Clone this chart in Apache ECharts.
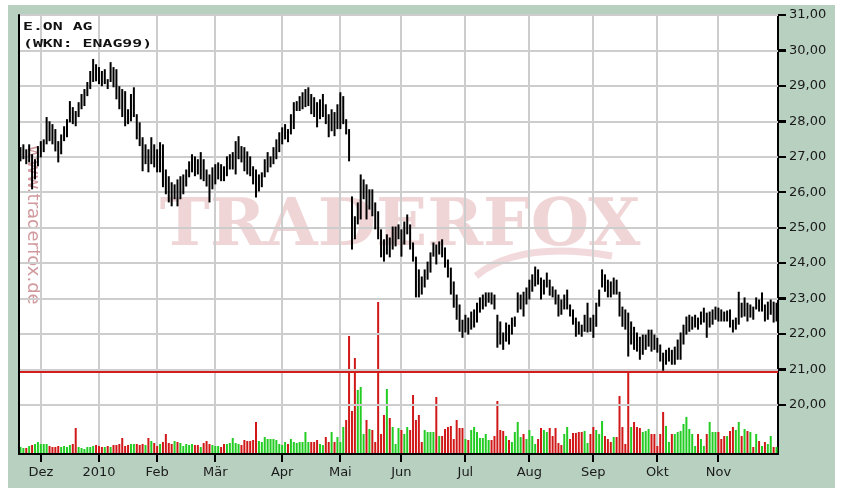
<!DOCTYPE html>
<html>
<head>
<meta charset="utf-8">
<title>E.ON AG</title>
<script src="https://cdn.jsdelivr.net/npm/echarts@6/dist/echarts.min.js"></script>
<style>
  html, body { margin: 0; padding: 0; background: #fff; }
  #main { width: 845px; height: 488px; }
</style>
</head>
<body>
<div id="main"></div>
<script>
// Handelstage: Xetra, 20.11.2009 bis 29.11.2010
const startDate = '2009-11-20';
const holidays = ['2009-12-24', '2009-12-25', '2009-12-31', '2010-01-01', '2010-04-02', '2010-04-05'];
const monthNames = ['Jan', 'Feb', 'Mär', 'Apr', 'Mai', 'Jun', 'Jul', 'Aug', 'Sep', 'Okt', 'Nov', 'Dez'];
const priceTicks = [20, 21, 22, 23, 24, 25, 26, 27, 28, 29, 30, 31];
const priceMin = 18.61;
const priceMax = 31;
const supportLine = 20.92;

// Tageshoch
const highs = [
  27.27, 27.35, 27.21, 27.35, 27.07, 26.93, 27.30, 27.44, 27.49, 28.12,
  28.00, 27.92, 27.78, 27.44, 27.63, 27.86, 28.06, 28.57, 28.40, 28.29,
  28.54, 28.77, 28.91, 29.11, 29.42, 29.76, 29.61, 29.53, 29.42, 29.47,
  29.19, 29.67, 29.53, 29.47, 28.99, 28.91, 28.85, 28.34, 28.77, 28.96,
  28.20, 27.97, 27.55, 27.35, 27.21, 27.55, 27.35, 27.21, 27.41, 27.35,
  26.64, 26.45, 26.28, 26.22, 26.36, 26.45, 26.50, 26.64, 26.87, 27.07,
  27.01, 26.93, 27.13, 26.93, 26.64, 26.50, 26.70, 26.79, 26.84, 26.79,
  26.73, 27.01, 27.07, 27.13, 27.44, 27.58, 27.30, 27.27, 27.15, 27.01,
  26.73, 26.64, 26.50, 26.56, 26.93, 27.13, 27.01, 27.27, 27.49, 27.69,
  27.83, 27.92, 27.78, 28.20, 28.54, 28.57, 28.71, 28.82, 28.91, 28.96,
  28.77, 28.68, 28.54, 28.62, 28.77, 28.48, 28.20, 28.34, 28.26, 28.48,
  28.82, 28.71, 28.06, 27.78, 25.88, 25.32, 25.71, 26.50, 26.36, 26.22,
  26.08, 26.08, 25.71, 25.46, 24.95, 24.67, 24.81, 24.72, 25.03, 25.03,
  25.09, 24.95, 25.17, 25.37, 25.09, 24.58, 24.18, 23.82, 23.62, 23.82,
  24.04, 24.30, 24.58, 24.52, 24.61, 24.67, 24.44, 24.10, 23.87, 23.48,
  23.11, 22.83, 22.40, 22.54, 22.46, 22.63, 22.69, 22.88, 23.03, 23.11,
  23.17, 23.17, 23.17, 23.11, 22.54, 22.35, 22.04, 22.32, 22.26, 22.46,
  22.49, 23.17, 23.11, 23.19, 23.31, 23.53, 23.68, 23.90, 23.82, 23.59,
  23.53, 23.73, 23.53, 23.34, 23.25, 23.11, 22.97, 23.11, 23.25, 22.83,
  22.69, 22.46, 22.35, 22.26, 22.54, 22.88, 22.46, 22.54, 22.88, 23.25,
  23.82, 23.68, 23.53, 23.48, 23.59, 23.53, 23.19, 22.77, 22.69, 22.60,
  22.35, 22.20, 22.04, 21.92, 21.98, 21.98, 22.12, 22.12, 21.98, 21.89,
  21.70, 21.47, 21.55, 21.61, 21.55, 21.64, 21.84, 22.04, 22.26, 22.49,
  22.54, 22.49, 22.54, 22.46, 22.63, 22.74, 22.60, 22.63, 22.69, 22.77,
  22.74, 22.69, 22.63, 22.66, 22.69, 22.40, 22.46, 23.19, 22.88, 23.03,
  22.88, 22.83, 22.77, 23.03, 22.97, 23.17, 22.83, 22.91, 22.97, 22.91,
  22.88
];

// Tagestief
const lows = [
  26.87, 26.93, 26.79, 26.84, 26.08, 26.36, 26.73, 26.98, 27.13, 27.35,
  27.44, 27.35, 27.15, 26.84, 27.07, 27.44, 27.55, 27.97, 27.92, 27.86,
  28.12, 28.34, 28.43, 28.71, 28.91, 29.11, 29.13, 29.05, 28.99, 29.05,
  28.91, 29.11, 28.96, 28.62, 28.34, 28.12, 27.86, 27.92, 28.00, 28.12,
  27.49, 27.30, 26.59, 26.79, 26.56, 26.79, 26.70, 26.56, 26.56, 26.14,
  25.94, 25.71, 25.60, 25.80, 25.60, 25.80, 25.94, 26.16, 26.42, 26.56,
  26.45, 26.50, 26.36, 26.31, 26.16, 25.71, 26.08, 26.22, 26.36, 26.31,
  26.31, 26.45, 26.64, 26.64, 26.50, 26.93, 26.84, 26.59, 26.50, 26.45,
  26.22, 25.85, 26.02, 26.14, 26.42, 26.56, 26.70, 26.79, 26.93, 27.13,
  27.35, 27.49, 27.41, 27.63, 27.78, 28.29, 28.29, 28.34, 28.40, 28.43,
  28.20, 28.12, 27.83, 28.06, 28.12, 27.92, 27.55, 27.72, 27.58, 27.78,
  27.78, 27.92, 27.63, 26.87, 24.38, 24.67, 25.09, 25.23, 25.80, 25.23,
  25.51, 25.32, 24.95, 24.67, 24.16, 24.04, 24.24, 24.16, 24.38, 24.47,
  24.67, 24.18, 24.52, 24.81, 24.38, 24.04, 23.03, 23.03, 23.11, 23.31,
  23.53, 23.73, 24.18, 23.96, 24.24, 24.16, 23.87, 23.59, 23.11, 22.74,
  22.40, 22.06, 21.89, 22.04, 21.98, 22.12, 22.18, 22.32, 22.60, 22.69,
  22.77, 22.88, 22.83, 22.69, 21.61, 21.70, 21.55, 21.78, 21.70, 21.98,
  22.20, 22.60, 22.69, 22.49, 22.83, 22.97, 23.19, 23.34, 23.39, 22.97,
  23.11, 23.31, 23.08, 23.03, 22.83, 22.49, 22.54, 22.69, 22.69, 22.49,
  22.26, 21.92, 21.98, 21.92, 22.06, 22.04, 22.06, 21.89, 22.20, 22.77,
  23.31, 23.19, 23.03, 23.03, 23.11, 23.11, 22.49, 22.20, 22.12, 21.36,
  21.70, 21.55, 21.50, 21.27, 21.41, 21.55, 21.64, 21.50, 21.55, 21.47,
  21.22, 20.96, 21.13, 21.22, 21.13, 21.13, 21.27, 21.27, 21.70, 21.98,
  22.06, 22.12, 22.18, 22.12, 22.26, 22.32, 21.89, 22.18, 22.26, 22.40,
  22.35, 22.35, 22.35, 22.35, 22.18, 22.04, 22.12, 22.26, 22.46, 22.49,
  22.35, 22.46, 22.40, 22.69, 22.63, 22.63, 22.35, 22.40, 22.54, 22.32,
  22.35
];

// Umsatz (relative Einheiten)
const volumes = [
  7, 6, 6, 8, 9, 10, 12, 10, 10, 10,
  8, 7, 7, 8, 7, 8, 7, 9, 10, 26,
  7, 6, 5, 7, 7, 8, 9, 8, 7, 7,
  8, 7, 9, 9, 10, 16, 8, 9, 10, 10,
  10, 9, 10, 9, 16, 13, 11, 8, 10, 12,
  20, 11, 10, 13, 12, 11, 8, 10, 9, 10,
  9, 9, 7, 11, 13, 10, 9, 8, 8, 7,
  10, 10, 11, 16, 11, 10, 9, 14, 13, 13,
  14, 32, 13, 12, 17, 15, 15, 15, 14, 10,
  9, 12, 10, 15, 12, 11, 12, 12, 22, 12,
  12, 12, 14, 10, 9, 17, 12, 22, 12, 17,
  12, 27, 34, 118, 43, 96, 64, 67, 20, 34,
  25, 24, 12, 152, 20, 39, 65, 36, 27, 10,
  26, 24, 20, 27, 24, 59, 34, 39, 12, 24,
  22, 22, 22, 57, 18, 18, 25, 27, 28, 15,
  34, 26, 26, 15, 14, 24, 27, 22, 16, 16,
  20, 14, 14, 18, 53, 24, 23, 18, 14, 12,
  22, 32, 17, 20, 15, 24, 18, 10, 15, 26,
  24, 22, 26, 18, 26, 11, 9, 20, 27, 15,
  21, 21, 22, 22, 23, 11, 20, 27, 24, 20,
  33, 18, 15, 12, 17, 17, 58, 27, 10, 83,
  27, 32, 27, 26, 22, 23, 25, 20, 20, 8,
  20, 42, 28, 12, 20, 20, 22, 23, 30, 37,
  25, 20, 8, 20, 15, 8, 20, 32, 22, 22,
  22, 15, 18, 18, 23, 27, 24, 32, 18, 25,
  23, 22, 7, 20, 13, 8, 12, 10, 18, 7,
  7
];

// Kalender der Handelstage aufbauen
const days = [];
for (let d = new Date(startDate + 'T00:00:00Z'); days.length < highs.length; d.setUTCDate(d.getUTCDate() + 1)) {
  const s = d.toISOString().slice(0, 10);
  const wd = d.getUTCDay();
  if (wd === 0 || wd === 6 || holidays.includes(s)) continue;
  days.push(s);
}
const monthStart = days.map((d, i) => i > 0 && d.slice(5, 7) !== days[i - 1].slice(5, 7));
const isMonthStart = (idx) => monthStart[idx];
const monthIdx = days.map((d, i) => i).filter((i) => monthStart[i]);
const lastIdx = days.length - 1;

const mids = highs.map((h, i) => (h + lows[i]) / 2);
const volumeData = volumes.map((v, i) => ({
  value: v,
  itemStyle: { color: i > 0 && mids[i] < mids[i - 1] ? '#d01818' : '#22cc22' }
}));

const gridColor = '#cdcdcd';
const textColor = '#1a1a1a';
const wmColor = '#f0d5d7';

// senkrechte Gitterlinie + Skalenstrich unten
const vLine = (params, api) => {
  const i = api.value(0);
  const top = api.coord([i, priceMax]);
  const bottom = api.coord([i, priceMin]);
  const x = Math.round(top[0]);
  return {
    type: 'group',
    children: [
      { type: 'rect', shape: { x: x - 1, y: top[1], width: 2, height: bottom[1] - top[1] }, style: { fill: gridColor } },
      { type: 'rect', shape: { x: x - 1, y: bottom[1], width: 2, height: 8 }, style: { fill: '#000' } }
    ]
  };
};
// Skalenstrich rechts an der Kursachse
const yTick = (params, api) => {
  const pt = api.coord([api.value(0), api.value(1)]);
  const band = (api.size && api.size([1, 0])[0]) || 2.9;
  return {
    type: 'rect',
    shape: { x: pt[0] + band / 2, y: Math.round(pt[1]) - 1, width: 8, height: 2 },
    style: { fill: '#000' }
  };
};

const chart = echarts.init(document.getElementById('main'));
chart.setOption({
  animation: false,
  grid: {
    left: 19, right: 67, top: 15, bottom: 34,
    show: true, backgroundColor: '#fff', borderWidth: 0, z: -10,
    outerBoundsMode: 'none'
  },
  graphic: [
    { type: 'rect', z: -20, silent: true, shape: { x: 8, y: 5, width: 827, height: 483 }, style: { fill: '#b8d0c0' } },
    {
      type: 'text', z: -5, x: 400, y: 228, scaleX: 1.12, scaleY: 1.1, silent: true,
      style: { text: 'TRADERFOX', font: 'bold 60px "DejaVu Serif"', fill: wmColor, textAlign: 'center', textVerticalAlign: 'middle' }
    },
    {
      type: 'bezierCurve', z: -5, silent: true,
      shape: { x1: 476, y1: 276, cpx1: 520, cpy1: 240, x2: 612, y2: 256 },
      style: { stroke: '#f2d9db', lineWidth: 7, fill: null }
    },
    {
      type: 'text', z: -5, x: 33, y: 225, rotation: -Math.PI / 2, silent: true,
      style: { text: 'www.traderfox.de', font: '18px "DejaVu Sans"', fill: '#d19a9e', textAlign: 'center', textVerticalAlign: 'middle' }
    },
    {
      type: 'text', z: 8, x: 23, y: 22, scaleX: 1.5,
      style: { text: 'E.ON AG', font: 'bold 11px "DejaVu Sans Mono"', fill: '#111', textVerticalAlign: 'top' }
    },
    {
      type: 'text', z: 8, x: 23, y: 39, scaleX: 1.5,
      style: { text: '(WKN: ENAG99)', font: 'bold 11px "DejaVu Sans Mono"', fill: '#111', textVerticalAlign: 'top' }
    },
    { type: 'rect', z: 20, silent: true, shape: { x: 835, y: 0, width: 10, height: 488 }, style: { fill: '#fff' } }
  ],
  xAxis: [
    {
      type: 'category', data: days, boundaryGap: true,
      axisLine: { lineStyle: { color: '#000', width: 2 } },
      axisTick: { show: false },
      axisLabel: {
        interval: isMonthStart, margin: 12, color: textColor, fontFamily: 'DejaVu Sans', fontSize: 13,
        formatter: (val) => {
          const m = +val.slice(5, 7);
          return m === 1 ? val.slice(0, 4) : monthNames[m - 1];
        }
      },
      splitLine: { show: false }
    },
    {
      type: 'category', data: days, position: 'top', z: 6,
      axisLine: { lineStyle: { color: '#000', width: 2 } },
      axisTick: { show: false }, axisLabel: { show: false }, splitLine: { show: false }
    }
  ],
  yAxis: [
    {
      type: 'value', position: 'right', min: priceMin, max: priceMax,
      axisLine: { show: true, lineStyle: { color: '#000', width: 2 } },
      axisTick: { show: true, customValues: priceTicks, length: 8, lineStyle: { color: '#000', width: 2 } },
      axisLabel: {
        customValues: priceTicks, margin: 11, color: textColor, fontFamily: 'DejaVu Sans', fontSize: 13,
        formatter: (v) => v.toFixed(2).replace('.', ',')
      },
      splitLine: { show: false }
    },
    { type: 'value', min: 0, max: 439, show: false },
    {
      type: 'value', position: 'left', min: 0, max: 1, z: 6,
      axisLine: { show: true, lineStyle: { color: '#000', width: 2 } },
      axisTick: { show: false }, axisLabel: { show: false }, splitLine: { show: false }
    }
  ],
  series: [
    {
      name: 'Gitter senkrecht', type: 'custom', xAxisIndex: 0, yAxisIndex: 0, z: 3, silent: true,
      data: monthIdx.map((i) => [i, priceMax]), encode: { x: 0, y: 1 }, renderItem: vLine
    },
    {
      name: 'Skala', type: 'custom', xAxisIndex: 0, yAxisIndex: 0, z: 3, silent: true,
      data: priceTicks.map((v) => [lastIdx, v]), encode: { x: 0, y: 1 }, renderItem: yTick
    },
    {
      name: 'Umsatz', type: 'bar', xAxisIndex: 0, yAxisIndex: 1, barWidth: 2, z: 4,
      data: volumeData
    },
    {
      name: 'E.ON AG', type: 'custom', xAxisIndex: 0, yAxisIndex: 0, z: 5,
      data: days.map((d, i) => [i, lows[i], highs[i]]),
      encode: { x: 0, y: [1, 2] },
      renderItem: (params, api) => {
        const lo = api.coord([api.value(0), api.value(1)]);
        const hi = api.coord([api.value(0), api.value(2)]);
        return {
          type: 'rect',
          shape: { x: lo[0] - 1, y: hi[1], width: 2, height: Math.max(lo[1] - hi[1], 1) },
          style: { fill: '#000' }
        };
      },
      markLine: {
        silent: true, symbol: 'none', label: { show: false },
        emphasis: { disabled: true },
        data: priceTicks.map((v) => ({ yAxis: v, lineStyle: { color: gridColor, width: 2, type: 'solid' } }))
          .concat([{ yAxis: supportLine, lineStyle: { color: '#d41c1c', width: 2, type: 'solid' } }])
      }
    }
  ]
});
</script>
</body>
</html>
